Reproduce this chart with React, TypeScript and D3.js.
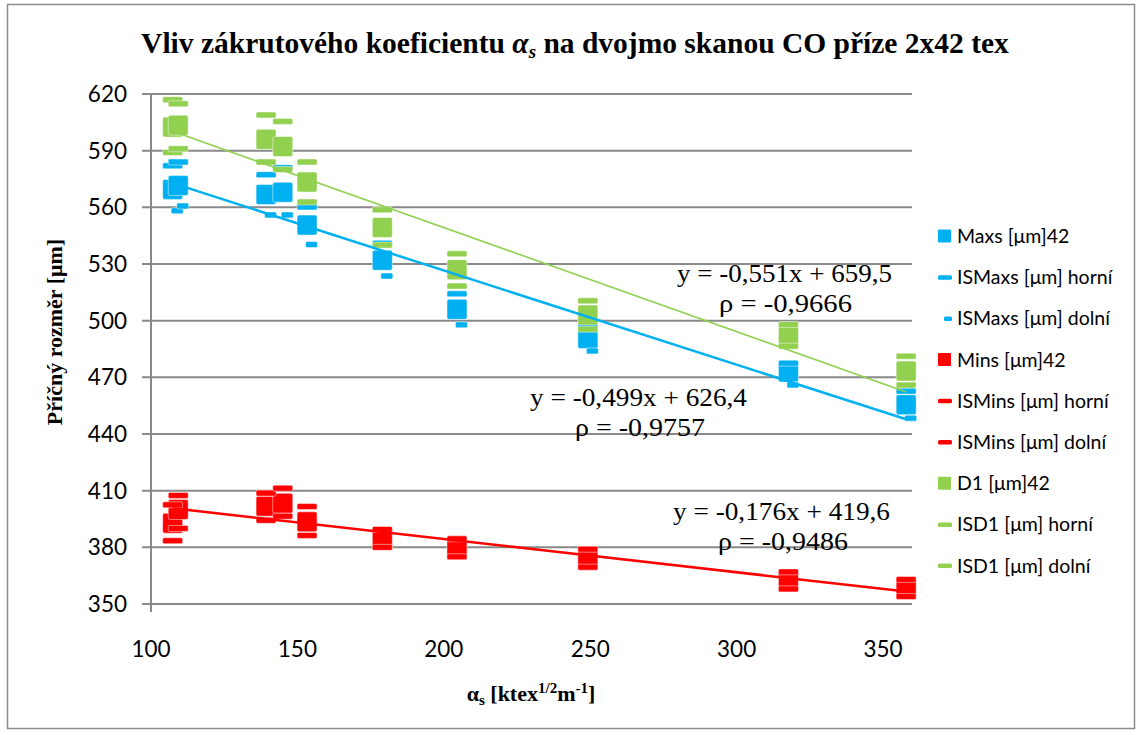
import * as d3 from "d3";

// shared x positions of the measurements (twist coefficient)
const alphaS = [107.4, 109.3, 139.3, 145, 153.3, 179, 204.5, 249.2, 317.7, 357.9];

const maxs = [569.5, 571.5, 566.8, 568, 550.6, 532, 506, 490.5, 472.8, 455.5];
const maxsUpper = [582, 584, 577.3, 581, 560.2, 541, 514.2, 497, 477.5, 462.7];
const maxsLower = [558.2, 560.7, 556, 556, 540.3, 523.6, 497.8, 484, 466, 448.4];

const mins = [392.8, 400, 401.8, 403.3, 393.5, 384.5, 379.5, 374, 362.5, 358.5];
const minsUpper = [402.5, 407.5, 408.7, 411.3, 401.6, 389.5, 384.5, 379, 367, 363];
const minsLower = [383.5, 390, 394.3, 396.5, 386.3, 380, 375, 369.5, 358, 354];

const d1 = [602.5, 603.5, 596, 592.2, 573.4, 549.3, 527, 503, 492.4, 473.3];
const d1Upper = [617, 614.8, 608.9, 605.5, 584, 558.7, 535.4, 510.5, 498, 481.2];
const d1Lower = [589, 591, 584, 580, 562.8, 540, 518.3, 495.5, 486.5, 465.9];

const yTicks = [350, 380, 410, 440, 470, 500, 530, 560, 590, 620];
const xTicks = [100, 150, 200, 250, 300, 350];

// trendlines: slope, intercept
const trendMaxs = { k: -0.499, q: 626.4 };
const trendMins = { k: -0.176, q: 419.6 };
const trendD1 = { k: -0.551, q: 659.5 };

const BLUE = "#00B0F0";
const RED = "#FF0000";
const GREEN = "#92D050";
const GRID = "#898989";

type Marker = "square" | "dash" | "short";

const series: { name: string; values: number[]; color: string; marker: Marker }[] = [
  { name: "Maxs [μm]42", values: maxs, color: BLUE, marker: "square" },
  { name: "ISMaxs [μm] horní", values: maxsUpper, color: BLUE, marker: "dash" },
  { name: "ISMaxs [μm] dolní", values: maxsLower, color: BLUE, marker: "short" },
  { name: "Mins [μm]42", values: mins, color: RED, marker: "square" },
  { name: "ISMins [μm] horní", values: minsUpper, color: RED, marker: "dash" },
  { name: "ISMins [μm] dolní", values: minsLower, color: RED, marker: "dash" },
  { name: "D1 [μm]42", values: d1, color: GREEN, marker: "square" },
  { name: "ISD1 [μm] horní", values: d1Upper, color: GREEN, marker: "dash" },
  { name: "ISD1 [μm] dolní", values: d1Lower, color: GREEN, marker: "dash" },
];

const x = d3.scaleLinear().domain([100, 360]).range([151, 912.3]);
const y = d3.scaleLinear().domain([350, 620]).range([604, 94]);

const sans = "Lato, 'Open Sans', sans-serif";
const serif = "'Liberation Serif', 'DejaVu Serif', serif";

const drawMarker = (m: Marker, cx: number, cy: number, color: string, key: string) => {
  if (m === "square")
    return <rect key={key} x={cx - 10} y={cy - 10} width={20} height={20} rx={2} fill={color} stroke="#fff" strokeOpacity={0.6} strokeWidth={0.8} />;
  if (m === "dash")
    return <rect key={key} x={cx - 10} y={cy - 3} width={20} height={6} rx={1.5} fill={color} stroke="#fff" strokeOpacity={0.6} strokeWidth={0.8} />;
  return <rect key={key} x={cx - 1.5} y={cy - 3} width={12} height={6} rx={1.5} fill={color} stroke="#fff" strokeOpacity={0.6} strokeWidth={0.8} />;
};

const trendPath = (t: { k: number; q: number }) => {
  const [a, b] = d3.extent(alphaS) as [number, number];
  return d3.line<number>().x((v) => x(v)).y((v) => y(t.k * v + t.q))([a, b]) || "";
};

export default function App() {
  const legendY = (i: number) => 236 + i * 41.2;
  return (
    <svg width={1141} height={735} style={{ position: "absolute", left: 0, top: 0, background: "#fff" }}>
      <rect x={7.5} y={4.5} width={1127} height={724} fill="#fff" stroke="#8c8c8c" strokeWidth={1.5} />

      {/* title */}
      <text x={575} y={53} textAnchor="middle" fontFamily={serif} fontWeight="bold" fontSize={29.5} fill="#000">
        Vliv zákrutového koeficientu{" "}
        <tspan fontStyle="italic">α</tspan>
        <tspan fontStyle="italic" fontSize={19} dy={5}>s</tspan>
        <tspan dy={-5}> na dvojmo skanou CO příze 2x42 tex</tspan>
      </text>

      {/* grid */}
      {yTicks.map((t) => (
        <g key={t}>
          <line x1={142} x2={912} y1={y(t)} y2={y(t)} stroke={GRID} strokeWidth={2} />
          <text x={127} y={y(t)} dy="0.36em" textAnchor="end" fontFamily={sans} fontSize={22.5} fill="#000">
            {t}
          </text>
        </g>
      ))}
      <line x1={151} x2={151} y1={93} y2={612} stroke={GRID} strokeWidth={2} />
      {xTicks.map((t) => (
        <text key={t} x={x(t)} y={657} textAnchor="middle" fontFamily={sans} fontSize={22.5} fill="#000">
          {t}
        </text>
      ))}

      {/* axis titles */}
      <text
        transform="translate(62,332) rotate(-90)"
        textAnchor="middle"
        fontFamily={serif}
        fontWeight="bold"
        fontSize={22}
        fill="#000"
      >
        Příčný rozměr [μm]
      </text>
      <text x={531} y={701} textAnchor="middle" fontFamily={serif} fontWeight="bold" fontSize={22} fill="#000">
        α<tspan fontSize={15} dy={4}>s</tspan>
        <tspan dy={-4}> [ktex</tspan>
        <tspan fontSize={15} dy={-8}>1/2</tspan>
        <tspan dy={8}>m</tspan>
        <tspan fontSize={15} dy={-8}>-1</tspan>
        <tspan dy={8}>]</tspan>
      </text>

      {/* markers */}
      {series.map((s, si) => (
        <g key={s.name}>{s.values.map((v, i) => drawMarker(s.marker, x(alphaS[i]), y(v), s.color, `${si}-${i}`))}</g>
      ))}

      {/* trendlines */}
      <path d={trendPath(trendMaxs)} stroke={BLUE} strokeWidth={2.5} fill="none" />
      <path d={trendPath(trendMins)} stroke={RED} strokeWidth={2.5} fill="none" />
      <path d={trendPath(trendD1)} stroke={GREEN} strokeWidth={1.6} fill="none" />

      {/* equations */}
      <g fontFamily={serif} fontSize={25} fill="#000" style={{ whiteSpace: "pre" }}>
        <text x={677} y={282} textLength={215} lengthAdjust="spacingAndGlyphs">y = -0,551x + 659,5</text>
        <text x={719} y={312} textLength={133} lengthAdjust="spacingAndGlyphs">ρ  = -0,9666</text>
        <text x={530} y={406} textLength={217} lengthAdjust="spacingAndGlyphs">y = -0,499x + 626,4</text>
        <text x={575} y={436} textLength={130} lengthAdjust="spacingAndGlyphs">ρ = -0,9757</text>
        <text x={673} y={520} textLength={217} lengthAdjust="spacingAndGlyphs">y = -0,176x + 419,6</text>
        <text x={718} y={550} textLength={130} lengthAdjust="spacingAndGlyphs">ρ = -0,9486</text>
      </g>

      {/* legend */}
      {series.map((s, i) => {
        const cy = legendY(i);
        return (
          <g key={s.name}>
            {s.marker === "square" && <rect x={938} y={cy - 6.5} width={13} height={13} rx={1} fill={s.color} />}
            {s.marker === "dash" && <rect x={938} y={cy - 2} width={14} height={4.5} rx={1.5} fill={s.color} />}
            {s.marker === "short" && <rect x={944} y={cy - 2} width={8} height={4.5} rx={1.5} fill={s.color} />}
            <text x={957} y={cy} dy="0.36em" fontFamily={sans} fontSize={19.5} fill="#000">
              {s.name}
            </text>
          </g>
        );
      })}
    </svg>
  );
}
